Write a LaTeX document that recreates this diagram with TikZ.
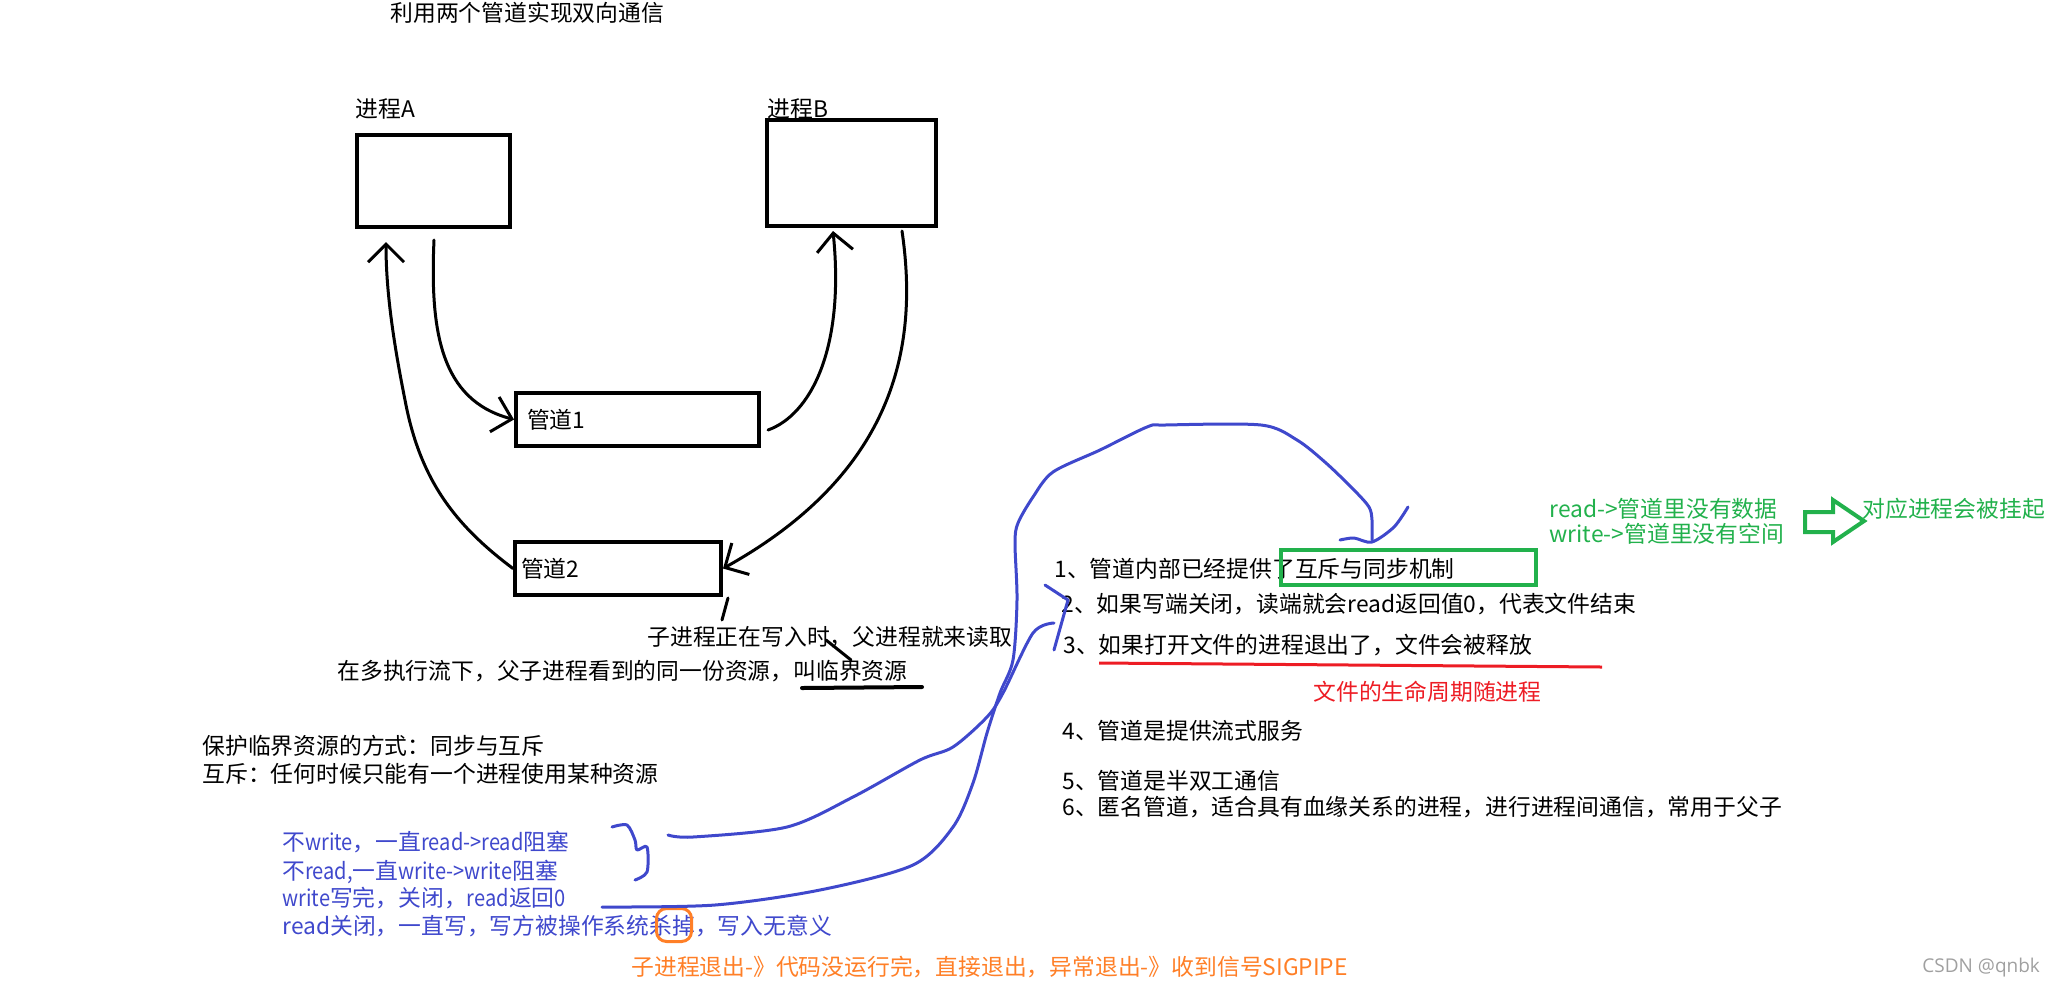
\documentclass[tikz,border=0pt]{standalone}
\usepackage{fontspec}
\setmainfont{Noto Sans CJK SC}
\newfontfamily\marksans{Open Sans}
\newfontfamily\narrowlatin[FakeStretch=0.88]{Noto Sans CJK SC}
\newcommand\lat[1]{{\narrowlatin #1}}
\usetikzlibrary{arrows.meta}
\definecolor{ink}{HTML}{000000}
\definecolor{penblue}{HTML}{3F48CC}
\definecolor{pengreen}{HTML}{22B14C}
\definecolor{penred}{HTML}{ED1C24}
\definecolor{penorange}{HTML}{FF7F27}
\definecolor{markgray}{HTML}{A0A0A0}

\begin{document}
\begin{tikzpicture}[x=0.5pt,y=-0.5pt,text=ink,
  font=\fontsize{11.4}{14}\selectfont,
  >={Straight Barb[length=9pt,width=18pt]},
  txt/.style={anchor=west,inner sep=0pt,text height=0.88em,text depth=0.12em},
  pen/.style={line width=1.5pt,line cap=round,line join=round},
  bluepen/.style={pen,penblue},
  procbox/.style={draw,line width=2pt,inner sep=0pt},
  pipebox/.style={procbox,align=left,minimum height=26.5pt}]
  \path[use as bounding box] (0,0) rectangle (2056,987);

  \node[txt] (title) at (390,14) {利用两个管道实现双向通信};

  % the two processes and the two pipes
  \node[procbox,minimum width=76.5pt,minimum height=46pt] (procA) at (433.5,181) {};
  \node[txt] (labA) at (355,110) {进程A};
  \node[procbox,minimum width=84.5pt,minimum height=53pt] (procB) at (851.5,173) {};
  \node[txt] (labB) at (767,110) {进程B};
  \node[pipebox,text width=110.5pt,inner xsep=5.5pt] (pipeOne) at (637.5,419.5) {管道1};
  \node[pipebox,text width=97pt,inner xsep=3pt] (pipeTwo) at (618,568.5) {管道2};

  \coordinate (aIn) at (386,242);
  \coordinate (aOut) at (434,240);
  \coordinate (oneOut) at (768,430);
  \coordinate (bIn) at (833,231);
  \coordinate (bOut) at (902,231);
  \draw[pen,->] (pipeTwo.west) .. controls (455,525) and (420,480) .. (405,400)
    .. controls (393,340) and (386,290) .. (aIn);
  \draw[pen,->] (aOut) .. controls (430,330) and (440,400) .. (pipeOne.west);
  \draw[pen,->] (oneOut) .. controls (810,415) and (845,350) .. (bIn);
  \draw[pen,->] (bOut) .. controls (918,340) and (900,470) .. (pipeTwo.east);

  % notes under the pipes
  \node[txt] (writeNote) at (647,638) {子进程正在写入时，父进程就来读取};
  \node[txt] (shareNote) at (337,672) {在多执行流下，父子进程看到的同一份资源，叫临界资源};
  \coordinate (twoTail) at (728,598);
  \coordinate (noteTip) at (722,620);
  \coordinate (shiTick) at (826,640);
  \coordinate (jieTick) at (851,660);
  \coordinate (underL) at (802,688);
  \coordinate (underR) at (922,687);
  \draw[pen] (twoTail) -- (noteTip);
  \draw[pen] (shiTick) -- (jieTick);
  \draw[pen,line width=2pt] (underL) -- (underR);

  \node[txt] (protect) at (202,747) {保护临界资源的方式：同步与互斥};
  \node[txt] (mutex) at (202,775) {互斥：任何时候只能有一个进程使用某种资源};

  % blue cases
  \begin{scope}[text=penblue]
    \node[txt] (rowOne) at (282,843) {不\lat{write}，一直\lat{read->read}阻塞};
    \node[txt] (rowTwo) at (282,872) {不\lat{read,}一直\lat{write->write}阻塞};
    \node[txt] (rowThree) at (282,899) {\lat{write}写完，关闭，\lat{read}返回\lat{0}};
    \node[txt] (rowFour) at (282,927) {read关闭，一直写，写方被操作系统杀掉，写入无意义};
  \end{scope}
  \node[draw=penorange,line width=1.5pt,rounded corners=5pt,inner sep=0pt,
    minimum width=17.5pt,minimum height=16.5pt] (killBox) at (674,925) {};
  \node[txt,text=penorange] (exitNote) at (631,968)
    {子进程退出-》代码没运行完，直接退出，异常退出-》收到信号SIGPIPE};

  % numbered points
  \node[txt] (itemOne) at (1054,570) {1、管道内部已经提供了互斥与同步机制};
  \node[txt] (itemTwo) at (1061,605) {2、如果写端关闭，读端就会read返回值0，代表文件结束};
  \node[txt] (itemThree) at (1063,646) {3、如果打开文件的进程退出了，文件会被释放};
  \node[txt,text=penred] (lifeNote) at (1313,693) {文件的生命周期随进程};
  \node[txt] (itemFour) at (1062,732) {4、管道是提供流式服务};
  \node[txt] (itemFive) at (1062,782) {5、管道是半双工通信};
  \node[txt] (itemSix) at (1062,808) {6、匿名管道，适合具有血缘关系的进程，进行进程间通信，常用于父子};
  \draw[penred,line width=1.5pt] (1099,663) -- (1602,667);
  \node[draw=pengreen,line width=2pt,inner sep=0pt,
    minimum width=127.5pt,minimum height=17.5pt] (sync) at (1408.5,567.5) {};

  % green side note
  \begin{scope}[text=pengreen]
    \node[txt] (noData) at (1549,510) {read->管道里没有数据};
    \node[txt] (noRoom) at (1549,535) {write->管道里没有空间};
    \node[txt] (suspend) at (1862,510) {对应进程会被挂起};
  \end{scope}
  \draw[pengreen,line width=2pt] (1805,512) -- (1833,512) -- (1833,500) -- (1864,521)
    -- (1833,542) -- (1833,532) -- (1805,532) -- cycle;

  % blue pen strokes
  \coordinate (braceOut) at (668,835);
  \coordinate (itemTwoIn) at (1054,623);
  \coordinate (rowOut) at (602,907);
  \coordinate (syncIn) at (1372,540);
  \draw[bluepen] plot[smooth,tension=0.5] coordinates {(612,827) (627,825) (635,840)
    (637,850) (647,847) (647,872) (635,880)};
  \draw[bluepen] plot[smooth,tension=0.5] coordinates {(braceOut) (693,837) (787,827)
    (853,797) (920,760) (953,747) (987,717) (1003,693) (1033,633) (itemTwoIn)};
  \draw[bluepen] (1045,585) -- (1068,600) -- (1054,650);
  \draw[bluepen] plot[smooth,tension=0.5] coordinates {(rowOut) (715,905) (820,890)
    (913,865) (953,827) (973,783) (987,733) (1000,693) (1013,660) (1017,600)
    (1015,543) (1018,523) (1033,497) (1053,472) (1100,450) (1147,427) (1165,425)
    (1261,425) (1297,440) (1326,463) (1354,490) (1369,507) (1372,520) (syncIn)};
  \draw[bluepen] plot[smooth,tension=0.5] coordinates {(1340,540) (1354,538)
    (1372,542) (1394,527) (1408,507)};

  \node[txt,font=\marksans\fontsize{9.5}{11}\selectfont,text=markgray] (mark)
    at (1922,965) {CSDN @qnbk};
\end{tikzpicture}
\end{document}
